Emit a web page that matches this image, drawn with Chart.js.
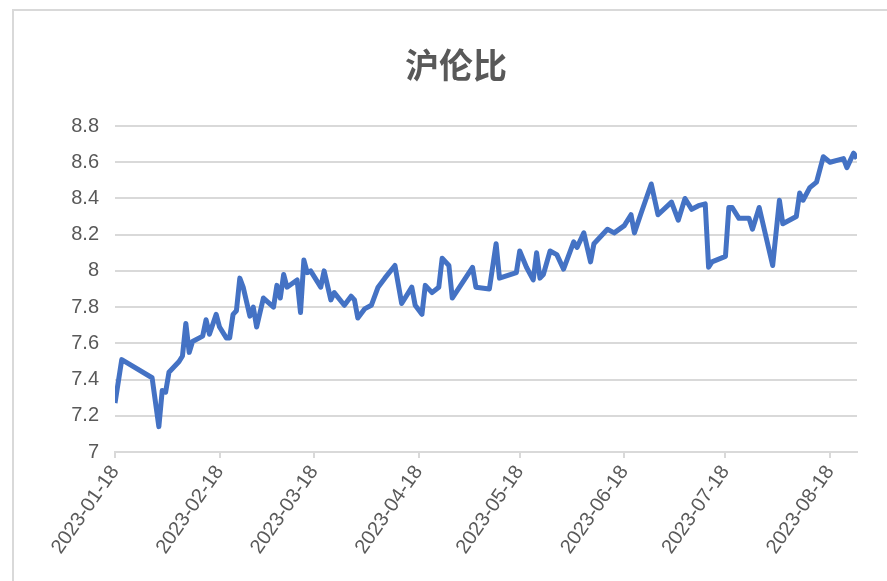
<!DOCTYPE html>
<html>
<head>
<meta charset="utf-8">
<script src="https://cdn.jsdelivr.net/npm/chart.js@4"></script>
<style>
  html, body { margin: 0; padding: 0; background: #fff; overflow: hidden; }
  #frame { position: absolute; left: 12px; top: 9px; width: 1000px; height: 700px; border: 2px solid #d9d9d9; }
  #chart { position: absolute; left: 0; top: 0; }
  #title { position: absolute; left: 0; top: 39px; width: 912px; text-align: center; line-height: 1;
           font: bold 34px 'Noto Sans CJK SC', sans-serif; color: #595959; }
</style>
</head>
<body>
<div id="frame"></div>
<canvas id="chart" width="912" height="581"></canvas>
<div id="title">沪伦比</div>
<script>
// 沪伦比 daily values
const dates = [
  '2023-01-18', '2023-01-20', '2023-01-29', '2023-01-31', '2023-02-01', '2023-02-02', '2023-02-03',
  '2023-02-06', '2023-02-07', '2023-02-08', '2023-02-09', '2023-02-10', '2023-02-13', '2023-02-14',
  '2023-02-15', '2023-02-17', '2023-02-18', '2023-02-20', '2023-02-21', '2023-02-22', '2023-02-23',
  '2023-02-24', '2023-02-25', '2023-02-27', '2023-02-28', '2023-03-01', '2023-03-03', '2023-03-06',
  '2023-03-07', '2023-03-08', '2023-03-09', '2023-03-10', '2023-03-13', '2023-03-14', '2023-03-15',
  '2023-03-16', '2023-03-17', '2023-03-20', '2023-03-21', '2023-03-23', '2023-03-24', '2023-03-27',
  '2023-03-29', '2023-03-30', '2023-03-31', '2023-04-02', '2023-04-04', '2023-04-06', '2023-04-08',
  '2023-04-11', '2023-04-13', '2023-04-16', '2023-04-17', '2023-04-19', '2023-04-20', '2023-04-22',
  '2023-04-24', '2023-04-25', '2023-04-27', '2023-04-28', '2023-05-04', '2023-05-05', '2023-05-09',
  '2023-05-11', '2023-05-12', '2023-05-17', '2023-05-18', '2023-05-20', '2023-05-22', '2023-05-23',
  '2023-05-24', '2023-05-25', '2023-05-27', '2023-05-29', '2023-05-31', '2023-06-03', '2023-06-04',
  '2023-06-06', '2023-06-08', '2023-06-09', '2023-06-13', '2023-06-15', '2023-06-18', '2023-06-20',
  '2023-06-21', '2023-06-23', '2023-06-26', '2023-06-28', '2023-07-02', '2023-07-04', '2023-07-06',
  '2023-07-08', '2023-07-10', '2023-07-12', '2023-07-13', '2023-07-14', '2023-07-18', '2023-07-19',
  '2023-07-20', '2023-07-22', '2023-07-25', '2023-07-26', '2023-07-28', '2023-08-01', '2023-08-03',
  '2023-08-04', '2023-08-08', '2023-08-09', '2023-08-10', '2023-08-12', '2023-08-14', '2023-08-16',
  '2023-08-18', '2023-08-22', '2023-08-23', '2023-08-25', '2023-08-26'
];
const ratio = [
  7.27, 7.51, 7.41, 7.14, 7.34, 7.33, 7.44,
  7.50, 7.53, 7.71, 7.55, 7.61, 7.64, 7.73,
  7.65, 7.76, 7.69, 7.63, 7.63, 7.76, 7.78,
  7.96, 7.91, 7.75, 7.80, 7.69, 7.85, 7.80,
  7.92, 7.85, 7.98, 7.91, 7.95, 7.77, 8.06,
  7.99, 8.00, 7.91, 8.00, 7.84, 7.88, 7.81,
  7.86, 7.84, 7.74, 7.79, 7.81, 7.91, 7.96,
  8.03, 7.82, 7.91, 7.81, 7.76, 7.92, 7.88,
  7.91, 8.07, 8.03, 7.85, 8.02, 7.91, 7.90,
  8.15, 7.96, 7.99, 8.11, 8.02, 7.95, 8.10,
  7.96, 7.98, 8.11, 8.09, 8.01, 8.16, 8.13,
  8.21, 8.05, 8.15, 8.23, 8.21, 8.25, 8.31,
  8.21, 8.32, 8.48, 8.31, 8.38, 8.28, 8.40,
  8.34, 8.36, 8.37, 8.02, 8.05, 8.08, 8.35,
  8.35, 8.29, 8.29, 8.23, 8.35, 8.03, 8.39,
  8.26, 8.30, 8.43, 8.39, 8.46, 8.49, 8.63,
  8.60, 8.62, 8.57, 8.65, 8.62
];
const tickLabels = ['2023-01-18', '2023-02-18', '2023-03-18', '2023-04-18', '2023-05-18', '2023-06-18', '2023-07-18', '2023-08-18'];

const startDay = Date.UTC(2023, 0, 18);
function dayOffset(s) {
  const p = s.split('-').map(Number);
  return (Date.UTC(p[0], p[1] - 1, p[2]) - startDay) / 86400000;
}
const tickDays = tickLabels.map(dayOffset);
const points = dates.map((d, i) => ({ x: dayOffset(d), y: ratio[i] }));

const textColor = '#595959';
const gridColor = '#d9d9d9';
const tickFont = { family: "'Liberation Sans', Arial, sans-serif", size: 20 };

new Chart(document.getElementById('chart'), {
  type: 'line',
  data: {
    datasets: [{
      label: '沪伦比',
      data: points,
      borderColor: '#4472C4',
      borderWidth: 5,
      pointRadius: 0,
      tension: 0,
      borderJoinStyle: 'round',
      fill: false
    }]
  },
  options: {
    responsive: false,
    animation: false,
    layout: { padding: { left: 0, right: 55, top: 126, bottom: 0 } },
    plugins: {
      legend: { display: false },
      tooltip: { enabled: false },
      title: { display: false }
    },
    scales: {
      x: {
        type: 'linear',
        min: 0,
        max: 220,
        afterBuildTicks: (axis) => { axis.ticks = tickDays.map(v => ({ value: v })); },
        afterFit: (axis) => { axis.height = 129; },
        ticks: {
          color: textColor,
          font: tickFont,
          minRotation: 55,
          maxRotation: 55,
          autoSkip: false,
          padding: 3,
          callback: (v) => tickLabels[tickDays.indexOf(v)]
        },
        grid: { drawOnChartArea: false, drawTicks: true, tickLength: 6, color: gridColor, lineWidth: 2 },
        border: { display: true, color: gridColor, width: 2 }
      },
      y: {
        min: 7,
        max: 8.8,
        afterFit: (axis) => { axis.width = 115; },
        ticks: {
          stepSize: 0.2,
          color: textColor,
          font: tickFont,
          padding: 16,
          callback: (v) => String(Number(v.toFixed(1)))
        },
        grid: { color: gridColor, lineWidth: 2, drawTicks: false },
        border: { display: false }
      }
    }
  }
});
</script>
</body>
</html>
